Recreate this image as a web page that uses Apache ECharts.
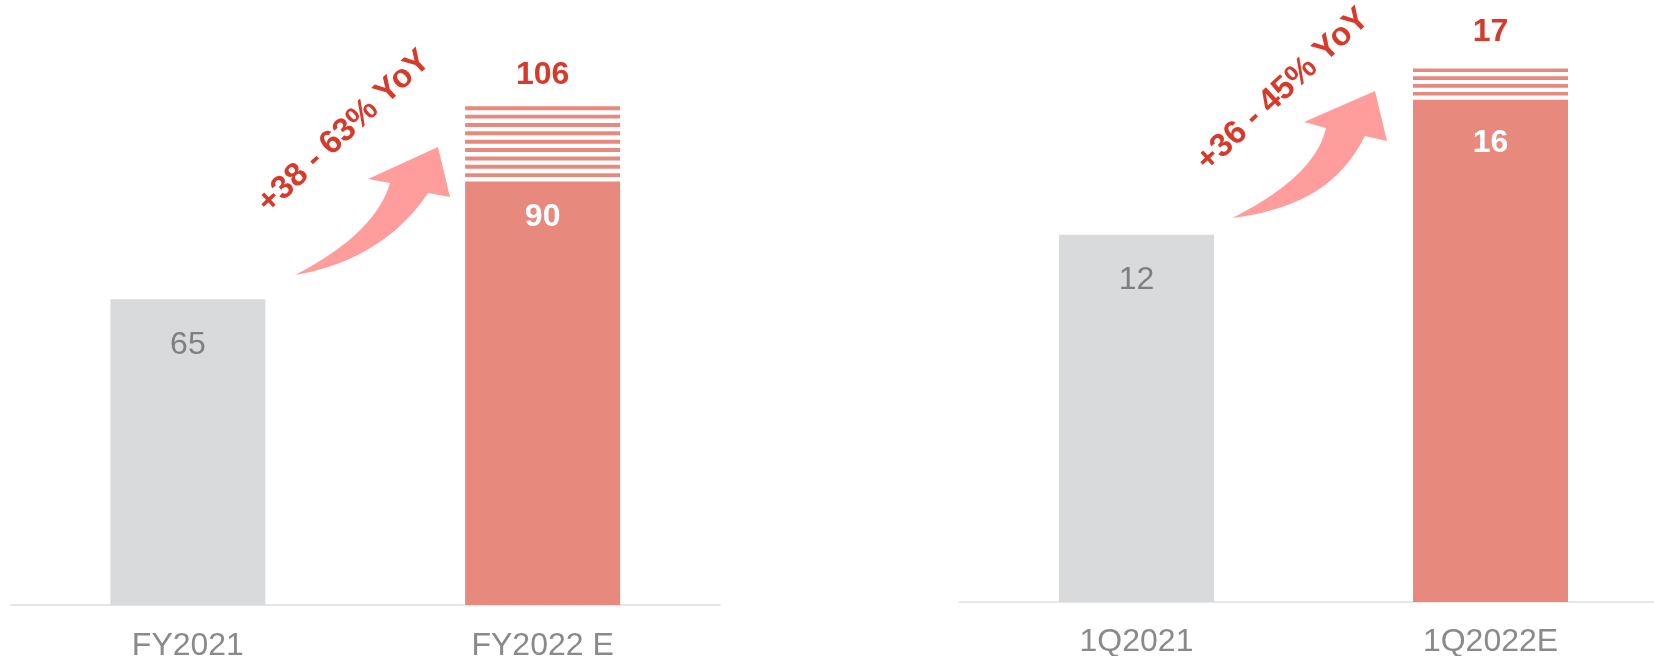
<!DOCTYPE html>
<html>
<head>
<meta charset="utf-8">
<script src="https://cdn.jsdelivr.net/npm/echarts@6/dist/echarts.min.js"></script>
<style>
  html, body { margin: 0; padding: 0; background: #ffffff; }
  #chart { width: 1654px; height: 656px; }
</style>
</head>
<body>
<div id="chart"></div>
<script>
// ---- data ----
const leftCategories = ['FY2021', 'FY2022 E'];
const leftValues = [65, 90];          // solid bars
const leftUpper = [null, 106];        // top of striped range
const rightCategories = ['1Q2021', '1Q2022E'];
const rightValues = [11.7, 16];       // solid bars (first labelled 12)
const rightUpper = [null, 17];
const growthLabels = ['+38 - 63% YoY', '+36 - 45% YoY'];

// ---- styles ----
const FONT = 'Liberation Sans, Arial, sans-serif';
const GRAY = '#d9dadc';
const RED = '#e8897e';
const DARKRED = '#d73a2b';
const ARROW = '#ff9d9d';
const BAR_W = 155;

function barData(values, dist) {
  return values.map((v, i) => ({
    value: v,
    itemStyle: { color: i === 0 ? GRAY : RED },
    label: i === 0
      ? { color: '#7f7f7f', fontWeight: 'normal', distance: dist[i] }
      : { color: '#ffffff', fontWeight: 'bold', distance: dist[i] }
  }));
}

function stripeData(values, upper) {
  const out = [];
  upper.forEach((u, i) => { if (u != null) out.push([i, values[i], u]); });
  return out;
}

function makeStripeRender(labelGap) {
  return function (params, api) {
    const idx = api.value(0), lo = api.value(1), hi = api.value(2);
    const pTop = api.coord([idx, hi]);
    const pBot = api.coord([idx, lo]);
    const x = pTop[0] - BAR_W / 2;
    const span = pBot[1] - pTop[1];
    const n = Math.max(1, Math.round(span / 8));
    const period = span / n;
    const children = [];
    for (let k = 0; k < n; k++) {
      children.push({
        type: 'rect',
        shape: { x: x, y: pTop[1] + k * period, width: BAR_W, height: period * 0.47 },
        style: { fill: RED }
      });
    }
    children.push({
      type: 'text',
      style: {
        text: String(hi), x: pTop[0], y: pTop[1] - labelGap,
        align: 'center', verticalAlign: 'middle',
        fill: DARKRED, fontSize: 32, fontWeight: 'bold', fontFamily: FONT
      }
    });
    return { type: 'group', children: children };
  };
}

// curved arrow outline: cubic upper edge, head, cubic lower edge
function cubic(p0, p1, p2, p3, steps) {
  const pts = [];
  for (let i = 0; i <= steps; i++) {
    const t = i / steps, u = 1 - t;
    pts.push([
      u*u*u*p0[0] + 3*u*u*t*p1[0] + 3*u*t*t*p2[0] + t*t*t*p3[0],
      u*u*u*p0[1] + 3*u*u*t*p1[1] + 3*u*t*t*p2[1] + t*t*t*p3[1]
    ]);
  }
  return pts;
}
function arrowPoints(a) {
  let pts = cubic(a.tail, a.c1, a.c2, a.join1, 24);
  pts.push(a.barb1, a.tip, a.barb2);
  pts = pts.concat(cubic(a.join2, a.c3, a.c4, a.tail, 24));
  return pts;
}
const arrowLeft = {
  tail: [295, 275], c1: [332, 256], c2: [378, 225], join1: [390, 183],
  barb1: [368, 179], tip: [438, 147], barb2: [450, 197],
  join2: [428, 193], c3: [410, 220], c4: [372, 262]
};
const arrowRight = {
  tail: [1232, 218], c1: [1277, 196], c2: [1318, 165], join1: [1326, 128],
  barb1: [1304, 122], tip: [1375, 91], barb2: [1387, 141],
  join2: [1365, 136], c3: [1348, 168], c4: [1320, 207]
};

function catAxis(gridIndex, cats, margin) {
  return {
    type: 'category', gridIndex: gridIndex, data: cats,
    axisLine: { show: true, lineStyle: { color: '#e6e6e6', width: 2 } },
    axisTick: { show: false },
    axisLabel: { color: '#8a8a8a', fontSize: 32, fontFamily: FONT, margin: margin }
  };
}
function valAxis(gridIndex, max) {
  return {
    type: 'value', gridIndex: gridIndex, min: 0, max: max,
    show: false, splitLine: { show: false }
  };
}

const chart = echarts.init(document.getElementById('chart'), null, { renderer: 'canvas' });
const option = {
  backgroundColor: '#ffffff',
  animation: false,
  grid: [
    { left: 10.5, width: 709.5, top: 40.4, bottom: 51, containLabel: false, outerBoundsMode: 'none' },
    { left: 959.5, width: 708, top: 5.6, bottom: 54, containLabel: false, outerBoundsMode: 'none' }
  ],
  xAxis: [catAxis(0, leftCategories, 25), catAxis(1, rightCategories, 24)],
  yAxis: [valAxis(0, 120), valAxis(1, 19)],
  series: [
    {
      type: 'bar', xAxisIndex: 0, yAxisIndex: 0, barWidth: BAR_W,
      data: barData(leftValues, [30, 20]),
      label: {
        show: true, position: 'insideTop', fontSize: 32, fontFamily: FONT,
        formatter: p => String(Math.round(p.value))
      }
    },
    {
      type: 'bar', xAxisIndex: 1, yAxisIndex: 1, barWidth: BAR_W,
      data: barData(rightValues, [29, 27]),
      label: {
        show: true, position: 'insideTop', fontSize: 32, fontFamily: FONT,
        formatter: p => String(Math.round(p.value))
      }
    },
    {
      type: 'custom', xAxisIndex: 0, yAxisIndex: 0,
      data: stripeData(leftValues, leftUpper),
      encode: { x: 0, y: [1, 2] },
      renderItem: makeStripeRender(31)
    },
    {
      type: 'custom', xAxisIndex: 1, yAxisIndex: 1,
      data: stripeData(rightValues, rightUpper),
      encode: { x: 0, y: [1, 2] },
      renderItem: makeStripeRender(36)
    }
  ],
  graphic: [
    { type: 'polygon', shape: { points: arrowPoints(arrowLeft) }, style: { fill: ARROW } },
    { type: 'polygon', shape: { points: arrowPoints(arrowRight) }, style: { fill: ARROW } },
    {
      type: 'text', x: 344, y: 132, rotation: 43 * Math.PI / 180,
      style: {
        text: growthLabels[0], align: 'center', verticalAlign: 'middle',
        fill: DARKRED, fontSize: 33, fontWeight: 'bold', fontFamily: FONT
      }
    },
    {
      type: 'text', x: 1283, y: 90, rotation: 43 * Math.PI / 180,
      style: {
        text: growthLabels[1], align: 'center', verticalAlign: 'middle',
        fill: DARKRED, fontSize: 33, fontWeight: 'bold', fontFamily: FONT
      }
    }
  ]
};
chart.setOption(option);
</script>
</body>
</html>
